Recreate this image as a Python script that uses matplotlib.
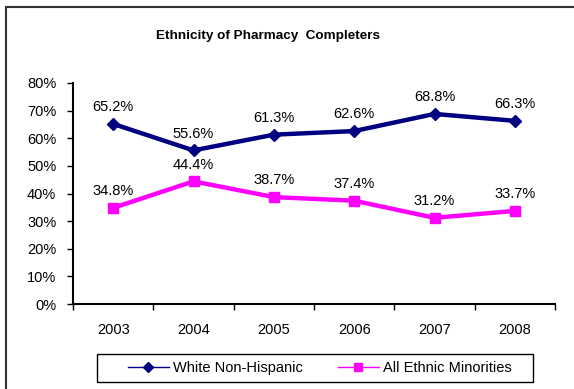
import matplotlib.pyplot as plt
from matplotlib.patches import Rectangle
from matplotlib.ticker import FuncFormatter, MultipleLocator

plt.rcParams['font.family'] = ['Liberation Sans', 'DejaVu Sans']

# dados
anos = ["2003", "2004", "2005", "2006", "2007", "2008"]
brancos = [65.2, 55.6, 61.3, 62.6, 68.8, 66.3]
minorias = [34.8, 44.4, 38.7, 37.4, 31.2, 33.7]

fig = plt.figure(figsize=(5.74, 3.89), dpi=100)

# moldura externa (só topo e esquerda aparecem)
fig.patches.append(Rectangle((6 / 574, -0.05), 1.2, 1 - 7 / 389 + 0.05,
                             transform=fig.transFigure, fill=False,
                             edgecolor="#333333", linewidth=1.5))

ax = fig.add_axes([73 / 574, 1 - 304 / 389, (555 - 73) / 574, (304 - 83) / 389])

x = list(range(len(anos)))
ax.plot(x, brancos, color="#000080", linewidth=3.2, marker="D", markersize=6,
        label="White Non-Hispanic")
ax.plot(x, minorias, color="#FF00FF", linewidth=3.2, marker="s", markersize=7,
        label="All Ethnic Minorities")

for xi, v in zip(x, brancos):
    ax.annotate(f"{v:.1f}%", (xi, v), xytext=(0, 7), textcoords="offset points",
                ha="center", va="bottom", fontsize=10.5)
for xi, v in zip(x, minorias):
    ax.annotate(f"{v:.1f}%", (xi, v), xytext=(0, 7), textcoords="offset points",
                ha="center", va="bottom", fontsize=10.5)

ax.set_xlim(-0.5, len(anos) - 0.5)
ax.set_ylim(0, 80)
ax.yaxis.set_major_locator(MultipleLocator(10))
ax.yaxis.set_major_formatter(FuncFormatter(lambda v, _: f"{v:.0f}%"))

ax.set_xticks([i - 0.5 for i in range(len(anos) + 1)], minor=False)
ax.set_xticklabels([])
ax.set_xticks(x, minor=True)
ax.set_xticklabels(anos, minor=True)
ax.tick_params(axis="x", which="minor", length=0, pad=14, labelsize=10.5)
ax.tick_params(axis="x", which="major", length=4, width=1, direction="out")
ax.tick_params(axis="y", length=4, width=1, direction="out", labelsize=10.5, pad=8)

ax.spines["top"].set_visible(False)
ax.spines["right"].set_visible(False)
ax.spines["left"].set_linewidth(1.5)
ax.spines["bottom"].set_linewidth(1.5)

fig.text(268 / 574, 1 - 36 / 389, "Ethnicity of Pharmacy  Completers",
         ha="center", va="center", fontsize=9.7, fontweight="bold")

# caixa da legenda desenhada à parte, como no Excel
fig.patches.append(Rectangle((97 / 574, 1 - 382 / 389), (533 - 97) / 574, 28 / 389,
                             transform=fig.transFigure, fill=False,
                             edgecolor="black", linewidth=1))
leg = fig.legend(loc="center", bbox_to_anchor=(320 / 574, 1 - 368 / 389), ncol=2,
                 fontsize=10.5, frameon=False, handlelength=2.8, handletextpad=0.3,
                 columnspacing=2.4, markerscale=0.8)
for line in leg.get_lines():
    line.set_linewidth(1)

fig.savefig("out.png", dpi=100)
